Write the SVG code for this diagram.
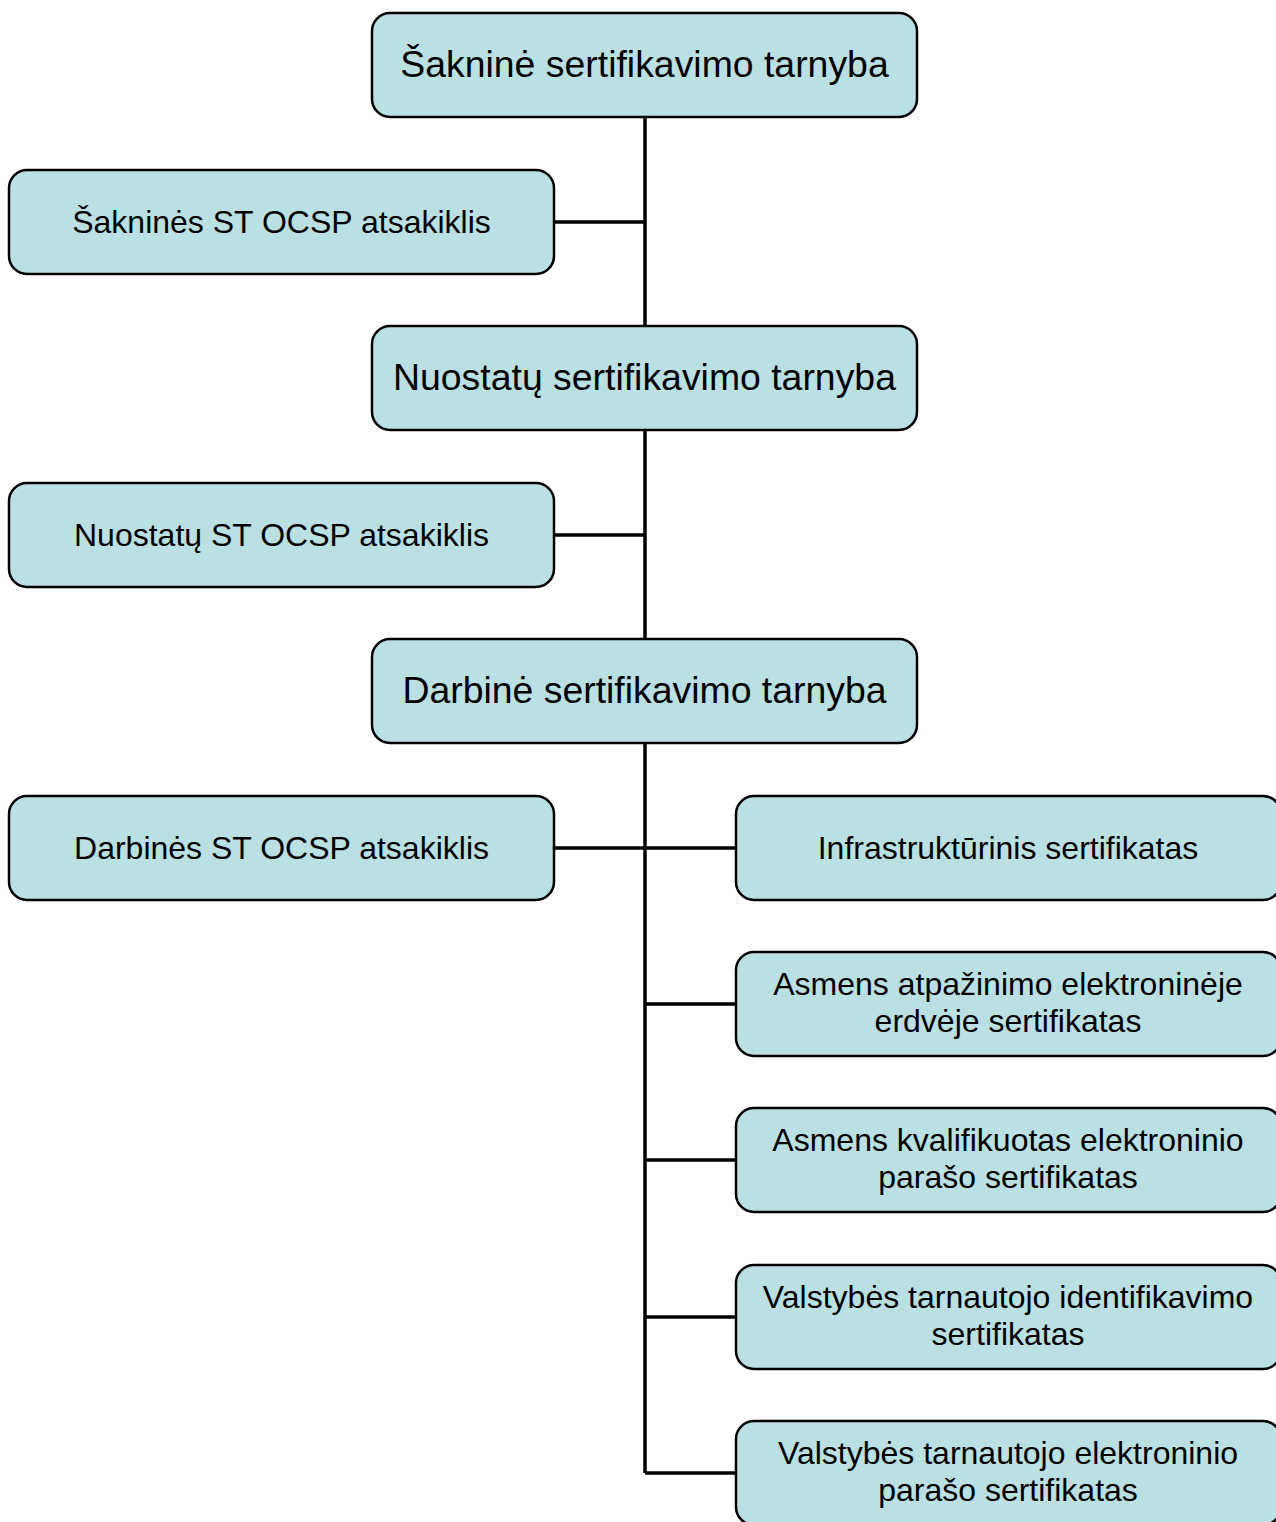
<svg xmlns="http://www.w3.org/2000/svg" width="1276" height="1522" viewBox="0 0 1276 1522">
<style>
.b{fill:#bae0e3;stroke:#000;stroke-width:2.5}
.t{font-family:"Liberation Sans",Arial,sans-serif;fill:#000;text-anchor:middle}
.l{font-size:37.4px}
.s{font-size:32px}
.c{stroke:#000;stroke-width:3.5;fill:none}
</style>
<rect width="1276" height="1522" fill="#fff"/>
<g id="connectors">
<path class="c" d="M645 117V1473M554 222H645M554 535H645M554 848H736M645 1004H736M645 1160H736M645 1317H736M645 1473H736"/>
</g>
<g id="root"><rect class="b" x="372" y="13" width="545" height="104" rx="18"/><text class="t l" x="644.5" y="77">Šakninė sertifikavimo tarnyba</text></g>
<g id="root-ocsp"><rect class="b" x="9" y="170" width="545" height="104" rx="18"/><text class="t s" x="281.5" y="233">Šakninės ST OCSP atsakiklis</text></g>
<g id="policy"><rect class="b" x="372" y="326" width="545" height="104" rx="18"/><text class="t l" x="644.5" y="390">Nuostatų sertifikavimo tarnyba</text></g>
<g id="policy-ocsp"><rect class="b" x="9" y="483" width="545" height="104" rx="18"/><text class="t s" x="281.5" y="546">Nuostatų ST OCSP atsakiklis</text></g>
<g id="work"><rect class="b" x="372" y="639" width="545" height="104" rx="18"/><text class="t l" x="644.5" y="703">Darbinė sertifikavimo tarnyba</text></g>
<g id="work-ocsp"><rect class="b" x="9" y="796" width="545" height="104" rx="18"/><text class="t s" x="281.5" y="859">Darbinės ST OCSP atsakiklis</text></g>
<g id="infra"><rect class="b" x="736" y="796" width="545" height="104" rx="18"/><text class="t s" x="1008" y="859">Infrastruktūrinis sertifikatas</text></g>
<g id="auth"><rect class="b" x="736" y="952" width="545" height="104" rx="18"/><text class="t s" x="1008" y="995">Asmens atpažinimo elektroninėje</text><text class="t s" x="1008" y="1032">erdvėje sertifikatas</text></g>
<g id="qual"><rect class="b" x="736" y="1108" width="545" height="104" rx="18"/><text class="t s" x="1008" y="1151">Asmens kvalifikuotas elektroninio</text><text class="t s" x="1008" y="1188">parašo sertifikatas</text></g>
<g id="civil-id"><rect class="b" x="736" y="1265" width="545" height="104" rx="18"/><text class="t s" x="1008" y="1308">Valstybės tarnautojo identifikavimo</text><text class="t s" x="1008" y="1345">sertifikatas</text></g>
<g id="civil-sign"><rect class="b" x="736" y="1421" width="545" height="104" rx="18"/><text class="t s" x="1008" y="1464">Valstybės tarnautojo elektroninio</text><text class="t s" x="1008" y="1501">parašo sertifikatas</text></g>
</svg>
